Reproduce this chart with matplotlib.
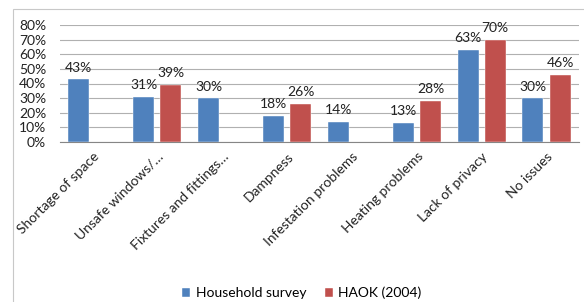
import matplotlib
matplotlib.use("Agg")
import matplotlib.pyplot as plt
from matplotlib.patches import Rectangle
import numpy as np

categories = ["Shortage of space", "Unsafe windows/\u2026", "Fixtures and fittings\u2026",
              "Dampness", "Infestation problems", "Heating problems",
              "Lack of privacy", "No issues"]
household = [0.43, 0.31, 0.30, 0.18, 0.14, 0.13, 0.63, 0.30]
haok = [None, 0.39, None, 0.26, None, 0.28, 0.70, 0.46]
series_names = ["Household survey", "HAOK (2004)"]
yticks = [0, 0.1, 0.2, 0.3, 0.4, 0.5, 0.6, 0.7, 0.8]

blue = "#4F81BD"
red = "#C0504D"
plt.rcParams['font.family'] = ['Lato', 'DejaVu Sans']

fig = plt.figure(figsize=(5.84, 3.02), dpi=100)
fig.patches.append(Rectangle((13/584, -0.1), 1.2, 1 - 9/302 + 0.1, transform=fig.transFigure,
                             fill=False, edgecolor="#c8c8c8", linewidth=0.8))
ax = fig.add_axes([60/584, 1 - 142/302, (579 - 60)/584, (142 - 25)/302])

x = np.arange(len(categories))
w = 0.325
off = 0.21
hx = x - off
hb = ax.bar(hx, household, width=w, color=blue, edgecolor="white", linewidth=0.3, zorder=3,
            label=series_names[0])
rx = [xi + off for xi, v in zip(x, haok) if v is not None]
rv = [v for v in haok if v is not None]
rb = ax.bar(rx, rv, width=w, color=red, edgecolor="white", linewidth=0.3, zorder=3,
            label=series_names[1])

for xi, v in zip(hx, household):
    ax.annotate(f"{round(v*100):d}%", (xi, v), xytext=(0, 4), textcoords="offset points",
                ha="center", va="bottom", fontsize=10, color="#222222")
for xi, v in zip(rx, rv):
    ax.annotate(f"{round(v*100):d}%", (xi, v), xytext=(0, 4), textcoords="offset points",
                ha="center", va="bottom", fontsize=10, color="#222222")

ax.set_xlim(-0.5, len(categories) - 0.5)
ax.set_ylim(0, 0.8)
ax.set_yticks(yticks)
ax.set_yticklabels([f"{int(round(t*100))}%" for t in yticks], fontsize=10, color="#222222")
ax.yaxis.grid(True, color="#b0b0b0", linewidth=0.8, zorder=0)
ax.set_axisbelow(True)
ax.tick_params(axis="y", length=0, pad=10)
ax.tick_params(axis="x", length=0, pad=6)
ax.set_xticks(x)
ax.set_xticklabels(categories, rotation=45, ha="right", va="top", rotation_mode="anchor",
                   fontsize=10, color="#222222")
for s in ["top", "right", "left"]:
    ax.spines[s].set_visible(False)
ax.spines["bottom"].set_color("#868686")
ax.spines["bottom"].set_linewidth(0.8)

fig.legend(handles=[hb, rb], labels=series_names, loc="center", bbox_to_anchor=(0.517, 0.03),
           ncol=2, frameon=False, fontsize=10, handlelength=0.6, handleheight=0.6,
           handletextpad=0.4, columnspacing=1.3, borderpad=0.0)

fig.savefig("out.png", dpi=100)
